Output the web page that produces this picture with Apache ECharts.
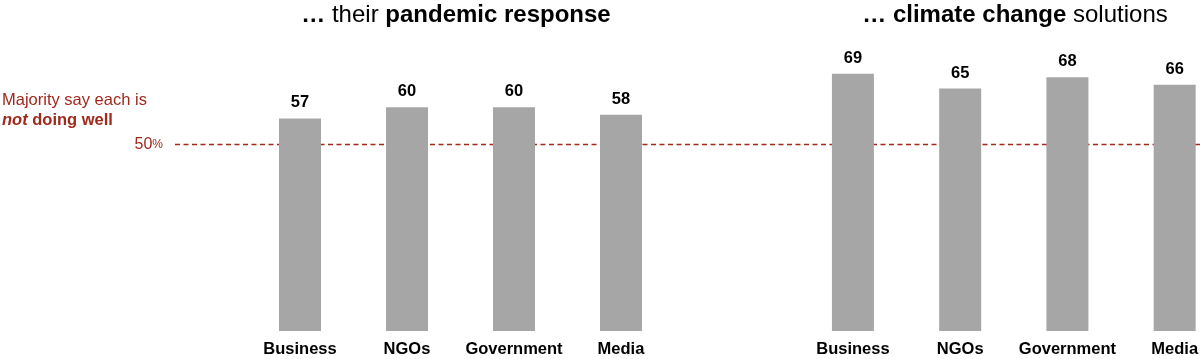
<!DOCTYPE html>
<html><head><meta charset="utf-8">
<script src="https://cdn.jsdelivr.net/npm/echarts@6/dist/echarts.min.js"></script>
<style>html,body{margin:0;padding:0;background:#fff}#c{width:1200px;height:359px}</style>
</head><body><div id="c"></div>
<script>
const categories = ['Business', 'NGOs', 'Government', 'Media'];
const pandemicValues = [57, 60, 60, 58];
const climateValues = [69, 65, 68, 66];
const thresholdValue = 50;
const yMax = 80;

const FONT = '"Liberation Sans", Arial, Helvetica, sans-serif';
const RED = '#a0291c';
const BAR = '#a6a6a6';
const gTop = 32.6, gBottom = 28;

const chart = echarts.init(document.getElementById('c'), null, {renderer: 'canvas'});

function xAxis(gi) {
  return {
    type: 'category', gridIndex: gi, data: categories,
    axisLine: {show: false}, axisTick: {show: false},
    axisLabel: {color: '#000', fontFamily: FONT, fontWeight: 'bold', fontSize: 16.5, margin: 10, interval: 0}
  };
}
function yAxis(gi) {
  return {type: 'value', gridIndex: gi, min: 0, max: yMax, show: false, splitLine: {show: false}};
}
function barSeries(gi, vals) {
  return {
    type: 'bar', xAxisIndex: gi, yAxisIndex: gi, data: vals, barWidth: 42, z: 5,
    itemStyle: {color: BAR},
    label: {show: true, position: 'top', distance: 7, color: '#000', fontFamily: FONT, fontWeight: 'bold', fontSize: 16.5}
  };
}
const titleRich = {
  n: {fontFamily: FONT, fontSize: 24, fontWeight: 'normal', color: '#000'},
  b: {fontFamily: FONT, fontSize: 24, fontWeight: 'bold', color: '#000'}
};

chart.setOption({
  animation: false,
  textStyle: {fontFamily: FONT},
  title: [
    {left: 456, top: 3, padding: 0, textAlign: 'center',
     text: '{b|…}{n| their }{b|pandemic response}',
     textStyle: {fontWeight: 'normal', rich: titleRich}},
    {left: 1015, top: 3, padding: 0, textAlign: 'center',
     text: '{b|… climate change}{n| solutions}',
     textStyle: {fontWeight: 'normal', rich: titleRich}},
    {left: 2, top: 90, padding: 0,
     text: '{n|Majority say each is}\n{i|not}{b| doing well}',
     textStyle: {fontWeight: 'normal', rich: {
       n: {fontFamily: FONT, fontSize: 16.5, fontWeight: 'normal', color: RED, lineHeight: 20},
       i: {fontFamily: FONT, fontSize: 16.5, color: RED, fontWeight: 'bold', fontStyle: 'italic', lineHeight: 20},
       b: {fontFamily: FONT, fontSize: 16.5, color: RED, fontWeight: 'bold', lineHeight: 20}
     }}}
  ],
  grid: [
    {left: 246.5, width: 428, top: gTop, bottom: gBottom, outerBoundsMode: 'none'},
    {left: 799.3, width: 429, top: gTop, bottom: gBottom, outerBoundsMode: 'none'},
    {left: 175, right: 0, top: gTop, bottom: gBottom, outerBoundsMode: 'none'}
  ],
  xAxis: [xAxis(0), xAxis(1), {type: 'value', gridIndex: 2, min: 0, max: 1, show: false}],
  yAxis: [yAxis(0), yAxis(1), {
    type: 'value', gridIndex: 2, min: 0, max: yMax, interval: thresholdValue,
    axisLine: {show: false}, axisTick: {show: false}, splitLine: {show: false},
    axisLabel: {show: true, margin: 12, color: RED, fontFamily: FONT, fontSize: 16,
      formatter: v => v === thresholdValue ? '{a|' + v + '}{p|%}' : '',
      rich: {a: {fontFamily: FONT, fontSize: 16, color: RED}, p: {fontFamily: FONT, fontSize: 12, color: RED}}}
  }],
  series: [
    {
      type: 'line', xAxisIndex: 2, yAxisIndex: 2, z: 1, symbol: 'none', silent: true,
      data: [[0, thresholdValue], [1, thresholdValue]],
      lineStyle: {color: RED, width: 1.3, type: [5, 3.5]}
    },
    barSeries(0, pandemicValues),
    barSeries(1, climateValues)
  ]
});
</script></body></html>
